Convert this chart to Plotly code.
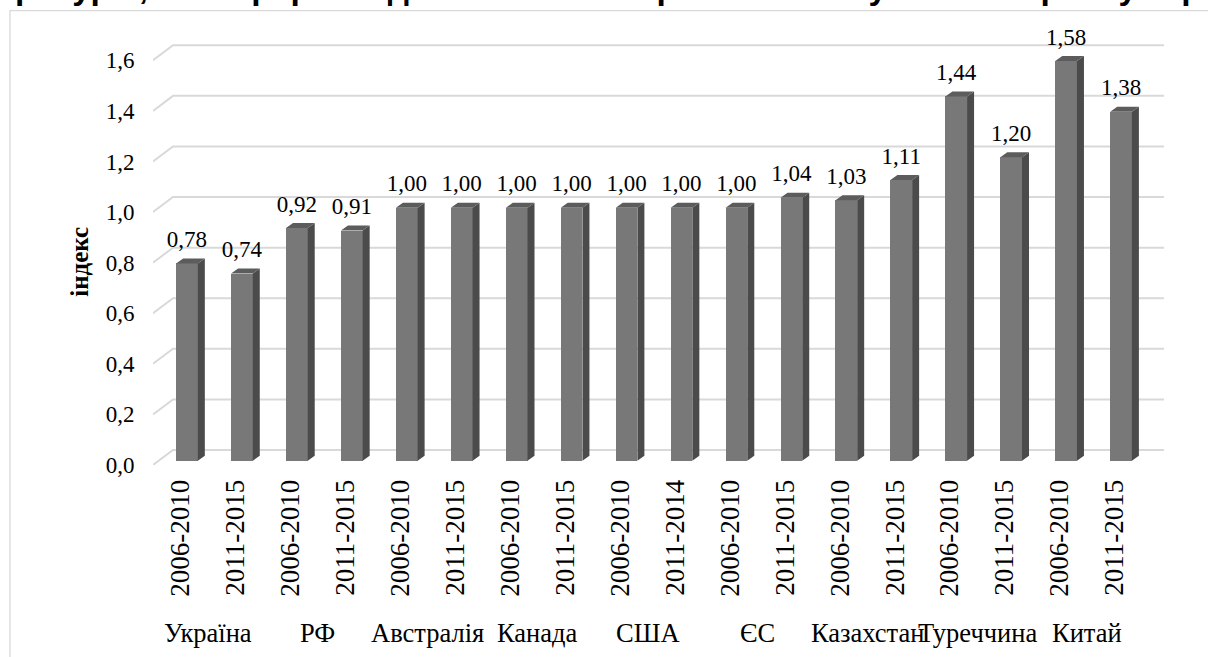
import plotly.graph_objects as go

# ---------------- data ----------------
periods = ["2006-2010", "2011-2015", "2006-2010", "2011-2015", "2006-2010", "2011-2015",
           "2006-2010", "2011-2015", "2006-2010", "2011-2014", "2006-2010", "2011-2015",
           "2006-2010", "2011-2015", "2006-2010", "2011-2015", "2006-2010", "2011-2015"]
values = [0.78, 0.74, 0.92, 0.91, 1.00, 1.00, 1.00, 1.00, 1.00, 1.00, 1.00, 1.04,
          1.03, 1.11, 1.44, 1.20, 1.58, 1.38]
countries = ["Україна", "РФ", "Австралія", "Канада", "США", "ЄС", "Казахстан", "Туреччина", "Китай"]
y_ticks = [0.0, 0.2, 0.4, 0.6, 0.8, 1.0, 1.2, 1.4, 1.6]
y_title = "індекс"
title_text = "ресурсі, які перерозподіляються на користь інших учасників ринку зерна"

# ---------------- layout geometry (pixels) ----------------
W, H = 1208, 657
L, B, T = 153, 192, 35.4
Y_MAX = 1.7
X_RANGE = [-0.5, 17.9]
PX_PER_CAT = 54.94
plot_h = H - T - B
plot_w = (X_RANGE[1] - X_RANGE[0]) * PX_PER_CAT
R = W - L - plot_w
ky = plot_h / Y_MAX          # px per y unit
kx = PX_PER_CAT              # px per x unit

def ux(px):
    return px / kx

def uy(px):
    return px / ky

# 3D-ish styling constants
GRID_DX, GRID_DY = 20, 15    # back wall offset
BAR_DX, BAR_DY = 6.5, 4.3    # bar front plane offset
SIDE_DX, SIDE_DY = 7.0, 5.0  # bar depth
BAR_W = 21.7

FRONT = "#787878"
SIDE = "#4b4b4b"
TOP = "#5c5c5c"
GRID = "#d9d9d9"
FONT = "Liberation Serif, Times New Roman, serif"

n = len(values)
idx = list(range(n))
bx = [i + ux(BAR_DX) for i in idx]
base = uy(BAR_DY)
hw = ux(BAR_W) / 2
sdx, sdy = ux(SIDE_DX), uy(SIDE_DY)

fig = go.Figure()

# front faces
fig.add_trace(go.Bar(x=bx, y=values, base=[base] * n, width=ux(BAR_W),
                     marker=dict(color=FRONT, line=dict(width=0)), hoverinfo="skip"))

# side & top faces
side_x, side_y, top_x, top_y = [], [], [], []
for x, v in zip(bx, values):
    xr_ = x + hw
    xl_ = x - hw
    yt = base + v
    side_x += [xr_, xr_ + sdx, xr_ + sdx, xr_, xr_, None]
    side_y += [base, base + sdy, yt + sdy, yt, base, None]
    top_x += [xl_, xl_ + sdx, xr_ + sdx, xr_, xl_, None]
    top_y += [yt, yt + sdy, yt + sdy, yt, yt, None]
fig.add_trace(go.Scatter(x=side_x, y=side_y, mode="lines", fill="toself", fillcolor=SIDE,
                         line=dict(width=0, color=SIDE), hoverinfo="skip"))
fig.add_trace(go.Scatter(x=top_x, y=top_y, mode="lines", fill="toself", fillcolor=TOP,
                         line=dict(width=0, color=TOP), hoverinfo="skip"))

# data labels
fig.add_trace(go.Scatter(x=bx, y=[base + v + uy(22) for v in values], mode="text",
                         text=[f"{v:.2f}".replace(".", ",") for v in values],
                         textposition="middle center",
                         textfont=dict(family=FONT, size=23, color="#000"),
                         hoverinfo="skip", cliponaxis=False))

# gridlines (front-left diagonal + back wall line)
shapes = []
gx0 = X_RANGE[0]
gx1 = gx0 + ux(GRID_DX)
gx2 = X_RANGE[1]
for v in y_ticks:
    shapes.append(dict(type="path", xref="x", yref="y", layer="below",
                       path=f"M{gx0},{v} L{gx1},{v + uy(GRID_DY)} L{gx2},{v + uy(GRID_DY)}",
                       line=dict(color=GRID, width=2)))

# outer frame
def paper_x(px):
    return (px - L) / plot_w

def paper_y(py):
    return (H - B - py) / plot_h

shapes.append(dict(type="rect", xref="paper", yref="paper",
                   x0=paper_x(10), x1=paper_x(1230), y0=paper_y(680), y1=paper_y(11),
                   line=dict(color="#d9d9d9", width=1.3), layer="below"))

annotations = []
# country labels
for j, c in enumerate(countries):
    annotations.append(dict(x=2 * j + 0.5, xref="x", y=paper_y(633), yref="paper",
                            text=c, showarrow=False, xanchor="center", yanchor="middle",
                            font=dict(family=FONT, size=26.5, color="#000")))
# y axis title
annotations.append(dict(x=paper_x(80), y=paper_y(262), xref="paper", yref="paper",
                        text=f"<b>{y_title}</b>", textangle=-90, showarrow=False,
                        xanchor="center", yanchor="middle",
                        font=dict(family=FONT, size=25, color="#000")))
# cropped caption at top
annotations.append(dict(x=paper_x(13), y=paper_y(8), xref="paper", yref="paper",
                        text=f"<b>{title_text}</b>", showarrow=False,
                        xanchor="left", yanchor="bottom",
                        font=dict(family="Liberation Sans, Arial, sans-serif", size=33.5, color="#000")))

fig.update_layout(
    width=W, height=H,
    margin=dict(l=L, r=R, t=T, b=B, pad=0),
    paper_bgcolor="white", plot_bgcolor="white",
    showlegend=False,
    shapes=shapes, annotations=annotations,
    bargap=0,
    xaxis=dict(range=X_RANGE, tickmode="array", tickvals=idx, ticktext=periods,
               tickangle=-90, tickfont=dict(family=FONT, size=27, color="#000"),
               showgrid=False, zeroline=False, showline=False,
               ticks="outside", ticklen=3, tickcolor="rgba(0,0,0,0)"),
    yaxis=dict(range=[0, Y_MAX], tickmode="array", tickvals=y_ticks,
               ticktext=[f"{v:.1f}".replace(".", ",") for v in y_ticks],
               tickfont=dict(family=FONT, size=23, color="#000"),
               showgrid=False, zeroline=False, showline=False,
               ticks="outside", ticklen=13, tickcolor="rgba(0,0,0,0)"),
)

fig.write_html("out.html", config={"displayModeBar": False},
               post_script="document.body.style.margin='0';document.body.style.overflow='hidden';")
